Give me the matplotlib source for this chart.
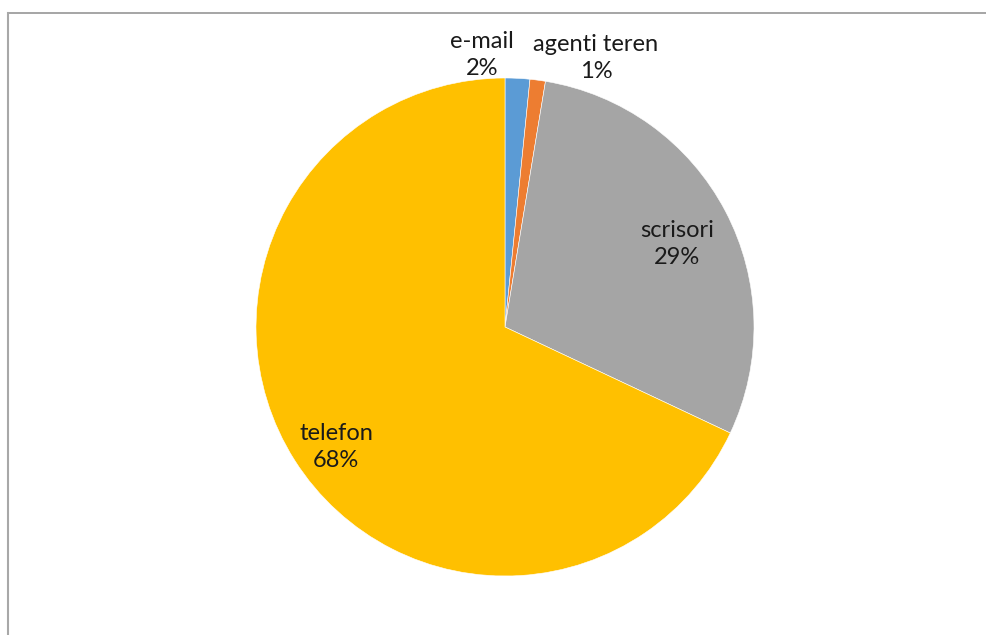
import matplotlib
matplotlib.use("Agg")
from matplotlib import pyplot as plt
from matplotlib.lines import Line2D

categories = ["e-mail", "agenti teren", "scrisori", "telefon"]
values = [1.6, 1.0, 29.4, 68.0]
colors = ["#5B9BD5", "#ED7D31", "#A5A5A5", "#FFC000"]

# label centres in pixel coords (x, y from top)
label_pos = [(482, 55), (596, 58), (677, 244), (336, 447)]

W, H = 987, 635
fig = plt.figure(figsize=(W / 100, H / 100), dpi=100)
ax = fig.add_axes([0, 0, 1, 1])

cx, cy, r = 505, H - 327, 249
ax.pie(values, colors=colors, startangle=90, counterclock=False,
       center=(cx, cy), radius=r, frame=True,
       wedgeprops=dict(linewidth=0.4, edgecolor="white"))
ax.set_xlim(0, W)
ax.set_ylim(0, H)
ax.set_aspect("equal")
ax.axis("off")

total = sum(values)
for name, val, (x, y) in zip(categories, values, label_pos):
    pct = round(val / total * 100)
    ax.text(x, H - y, f"{name}\n{pct}%", ha="center", va="center",
            fontsize=17, family=["Lato", "DejaVu Sans"], color="#1a1a1a",
            linespacing=1.3)

# chart area border (top and left visible)
fig.add_artist(Line2D([8.5 / W, 1], [1 - 12.5 / H, 1 - 12.5 / H],
                      transform=fig.transFigure, color="#9e9e9e", lw=1.3))
fig.add_artist(Line2D([8.5 / W, 8.5 / W], [0, 1 - 12.5 / H],
                      transform=fig.transFigure, color="#a8a8a8", lw=1.5))

fig.savefig("out.png", dpi=100)
